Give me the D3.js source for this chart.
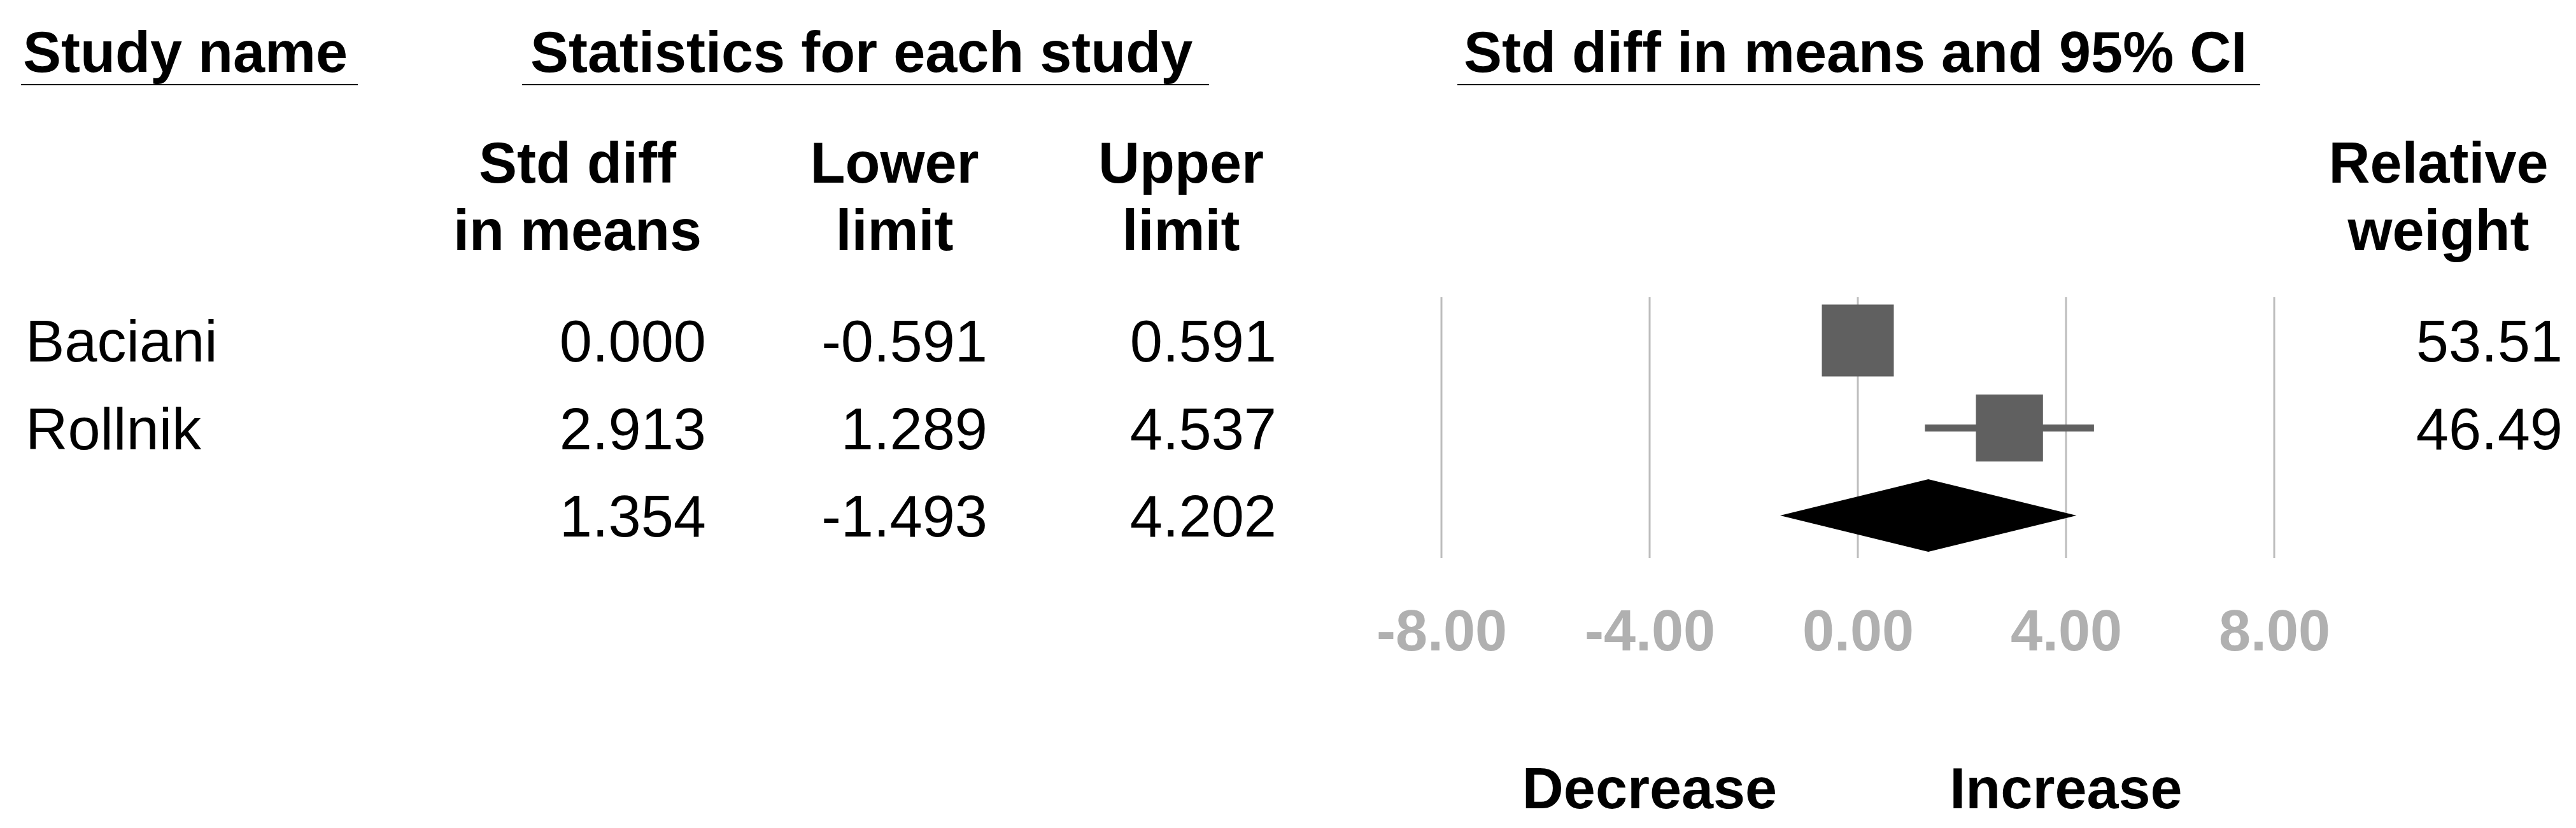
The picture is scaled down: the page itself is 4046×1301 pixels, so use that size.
<!DOCTYPE html>
<html>
<head>
<meta charset="utf-8">
<script src="https://cdn.jsdelivr.net/npm/d3@7"></script>
<style>
  html, body { margin: 0; padding: 0; background: #fff; }
  svg { display: block; }
  text { font-family: "Liberation Sans", Arial, sans-serif; }
</style>
</head>
<body>
<svg id="chart" width="4046" height="1301"></svg>
<script>
// ---- Data ----
const studies = ["Baciani", "Rollnik"];
const stdDiff = [0.000, 2.913];
const lowerLimit = [-0.591, 1.289];
const upperLimit = [0.591, 4.537];
const relWeight = [53.51, 46.49];
const summaryStats = [1.354, -1.493, 4.202]; // std diff, lower, upper
const xTickValues = [-8, -4, 0, 4, 8];
const directionLabels = ["Decrease", "Increase"];
const directionAt = [-4, 4];
const colHeaders = [["Std diff", "in means"], ["Lower", "limit"], ["Upper", "limit"]];

// ---- Layout ----
const W = 4046, H = 1301;
const svg = d3.select("#chart");
const boldSize = 90, regSize = 92;
const loc = d3.formatLocale({decimal: ".", thousands: ",", grouping: [3], currency: ["", ""], minus: "-"});
const f3 = loc.format(".3f"), f2 = loc.format(".2f");

const x = d3.scaleLinear().domain([-8, 8]).range([2264, 3572]);
const rows = [...studies, "__summary"];
const y = d3.scalePoint().domain(rows).range([535, 810]);
const side = d3.scaleSqrt().domain([0, d3.max(relWeight)]).range([0, 113]);

const colRight = [1109, 1551, 2005];
const colCenter = [907, 1405, 1855];

// ---- Group headers ----
const groups = [
  {label: "Study name", x0: 33, x1: 562, tx: 36},
  {label: "Statistics for each study", x0: 820, x1: 1899, tx: 833},
  {label: "Std diff in means and 95% CI", x0: 2289, x1: 3550, tx: 2299}
];
svg.selectAll("text.group").data(groups).join("text")
  .attr("class", "group")
  .attr("x", d => d.tx).attr("y", 113)
  .attr("font-size", boldSize).attr("font-weight", "bold")
  .text(d => d.label);
svg.selectAll("line.uline").data(groups).join("line")
  .attr("class", "uline")
  .attr("x1", d => d.x0).attr("x2", d => d.x1)
  .attr("y1", 133).attr("y2", 133)
  .attr("stroke", "#000").attr("stroke-width", 2);

// ---- Column headers ----
colHeaders.forEach((lines, i) => {
  lines.forEach((ln, j) => {
    svg.append("text")
      .attr("x", colCenter[i]).attr("y", 287 + j * 106)
      .attr("text-anchor", "middle")
      .attr("font-size", boldSize).attr("font-weight", "bold")
      .text(ln);
  });
});
["Relative", "weight"].forEach((ln, j) => {
  svg.append("text")
    .attr("x", 3830).attr("y", 287 + j * 106)
    .attr("text-anchor", "middle")
    .attr("font-size", boldSize).attr("font-weight", "bold")
    .text(ln);
});

// ---- Grid lines ----
svg.selectAll("line.grid").data(xTickValues).join("line")
  .attr("class", "grid")
  .attr("x1", d => x(d)).attr("x2", d => x(d))
  .attr("y1", 467).attr("y2", 877)
  .attr("stroke", "#bdbdbd").attr("stroke-width", 3);

// ---- Axis labels ----
const axis = d3.axisBottom(x).tickValues(xTickValues).tickFormat(f2).tickSize(0).tickPadding(0);
const axG = svg.append("g").attr("transform", "translate(0,958)").call(axis);
axG.select(".domain").remove();
axG.selectAll("text")
  .attr("font-size", boldSize).attr("font-weight", "bold")
  .attr("font-family", "'Liberation Sans', Arial, sans-serif")
  .attr("fill", "#b0b0b0").attr("dy", "0.71em");

// ---- Study rows ----
const baseOff = 33;
studies.forEach((s, i) => {
  const cy = y(s);
  svg.append("text").attr("x", 40).attr("y", cy + baseOff)
    .attr("font-size", regSize).text(s);
  [stdDiff[i], lowerLimit[i], upperLimit[i]].forEach((v, k) => {
    svg.append("text").attr("x", colRight[k]).attr("y", cy + baseOff)
      .attr("text-anchor", "end").attr("font-size", regSize)
      .text(f3(v));
  });
  svg.append("text").attr("x", 4025).attr("y", cy + baseOff)
    .attr("text-anchor", "end").attr("font-size", regSize)
    .text(f2(relWeight[i]));
  // CI line
  svg.append("line")
    .attr("x1", x(lowerLimit[i])).attr("x2", x(upperLimit[i]))
    .attr("y1", cy).attr("y2", cy)
    .attr("stroke", "#606060").attr("stroke-width", 11);
  // square
  const sz = side(relWeight[i]);
  svg.append("rect")
    .attr("x", x(stdDiff[i]) - sz / 2).attr("y", cy - sz / 2)
    .attr("width", sz).attr("height", sz)
    .attr("fill", "#606060");
});

// ---- Summary row ----
const sy = y("__summary");
summaryStats.forEach((v, k) => {
  svg.append("text").attr("x", colRight[k]).attr("y", sy + baseOff)
    .attr("text-anchor", "end").attr("font-size", regSize)
    .text(f3(v));
});
const dh = 57;
svg.append("path")
  .attr("d", `M${x(summaryStats[1])},${sy} L${x(summaryStats[0])},${sy - dh} L${x(summaryStats[2])},${sy} L${x(summaryStats[0])},${sy + dh} Z`)
  .attr("fill", "#000");

// ---- Direction labels ----
svg.selectAll("text.dir").data(directionLabels).join("text")
  .attr("class", "dir")
  .attr("x", (d, i) => x(directionAt[i])).attr("y", 1270)
  .attr("text-anchor", "middle")
  .attr("font-size", boldSize).attr("font-weight", "bold")
  .text(d => d);
</script>
</body>
</html>
